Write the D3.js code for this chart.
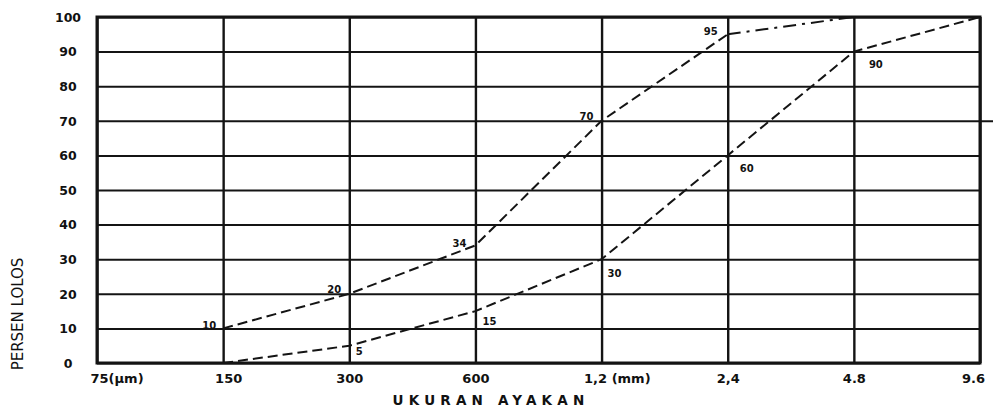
<!DOCTYPE html>
<html>
<head>
<meta charset="utf-8">
<script src="https://cdn.jsdelivr.net/npm/d3@7"></script>
<style>
  html, body { margin: 0; padding: 0; background: #fff; }
  svg { display: block; }
  text { font-family: "DejaVu Sans", sans-serif; fill: #111; }
</style>
</head>
<body>
<svg id="chart" width="993" height="408"></svg>
<script>
// ---- data ----
const sieveSizes = [0.075, 0.15, 0.3, 0.6, 1.2, 2.4, 4.8, 9.6];           // mm
const xTickLabels = ["75(\u00b5m)", "150", "300", "600", "1,2 (mm)", "2,4", "4.8", "9.6"];
const yTicks = [0, 10, 20, 30, 40, 50, 60, 70, 80, 90, 100];

const upperSizes  = [0.15, 0.3, 0.6, 1.2, 2.4, 4.8];
const upperValues = [10, 20, 34, 70, 95, 100];
const upperLabels = ["10", "20", "34", "70", "95", null];

const lowerSizes  = [0.15, 0.3, 0.6, 1.2, 2.4, 4.8, 9.6];
const lowerValues = [0, 5, 15, 30, 60, 90, 100];
const lowerLabels = [null, "5", "15", "30", "60", "90", null];

const yTitle = "PERSEN LOLOS";
const xTitle = "UKURAN AYAKAN";

// ---- layout ----
const svg = d3.select("#chart");
const mLeft = 97, mRight = 980, mTop = 17, mBottom = 363;

const x = d3.scaleLog().base(2).domain([0.075, 9.6]).range([mLeft, mRight]);
const y = d3.scaleLinear().domain([0, 100]).range([mBottom, mTop]);

const ink = "#141414";

// horizontal grid
const yAxis = d3.axisLeft(y).tickValues(yTicks).tickSize(-(mRight - mLeft)).tickFormat(d => d);
const gy = svg.append("g").attr("transform", `translate(${mLeft},0)`).call(yAxis);
gy.select(".domain").remove();
gy.selectAll(".tick line").attr("stroke", ink).attr("stroke-width", 2);
gy.selectAll(".tick text")
  .attr("x", -29).attr("dy", "0.35em")
  .attr("text-anchor", "middle")
  .style("font-size", "12.5px").style("font-weight", "bold");
// the 70 line sticks out past the right border
gy.selectAll(".tick").filter(d => d === 70).select("line")
  .attr("x2", 993 - mLeft);

// vertical grid
const xAxis = d3.axisBottom(x).tickValues(sieveSizes).tickSize(-(mBottom - mTop))
  .tickFormat((d, i) => xTickLabels[i]);
const gx = svg.append("g").attr("transform", `translate(0,${mBottom})`).call(xAxis);
gx.select(".domain").remove();
gx.selectAll(".tick line").attr("stroke", ink).attr("stroke-width", 2.4);
gx.selectAll(".tick text")
  .attr("y", 20).attr("dy", 0)
  .style("font-size", "13px").style("font-weight", "bold")
  .attr("text-anchor", (d, i) => (i === 0 || i === 4) ? "start" : "middle")
  .attr("dx", (d, i) => i === 0 ? -7 : i === 1 ? 5 : i === 4 ? -18 : i === 7 ? -7 : 0);

// frame
svg.append("rect")
  .attr("x", mLeft).attr("y", mTop)
  .attr("width", mRight - mLeft).attr("height", mBottom - mTop)
  .attr("fill", "none").attr("stroke", ink).attr("stroke-width", 3);

// curves
const line = d3.line().x(d => x(d[0])).y(d => y(d[1]));
const upper = upperSizes.map((s, i) => [s, upperValues[i]]);
const lower = lowerSizes.map((s, i) => [s, lowerValues[i]]);

svg.append("path").datum(upper.slice(0, 5)).attr("d", line)
  .attr("fill", "none").attr("stroke", ink).attr("stroke-width", 2)
  .attr("stroke-dasharray", "10,5");
svg.append("path").datum(upper.slice(4)).attr("d", line)
  .attr("fill", "none").attr("stroke", ink).attr("stroke-width", 2)
  .attr("stroke-dasharray", "13,6,3,6");
svg.append("path").datum(lower).attr("d", line)
  .attr("fill", "none").attr("stroke", ink).attr("stroke-width", 2)
  .attr("stroke-dasharray", "10,5");

// point labels (offsets are layout only)
const upperOffsets = [[-14, -3], [-15, -4], [-16, -2], [-15, -4], [-17, -3], [0, 0]];
const lowerOffsets = [[0, 0], [10, 6], [14, 10], [13, 14], [19, 13], [22, 13], [0, 0]];

function labelSeries(pts, labels, offsets) {
  svg.append("g").selectAll("text")
    .data(pts.map((p, i) => ({ p, t: labels[i], o: offsets[i] })).filter(d => d.t))
    .join("text")
    .attr("x", d => x(d.p[0]) + d.o[0])
    .attr("y", d => y(d.p[1]) + d.o[1])
    .attr("dy", "0.35em")
    .attr("text-anchor", "middle")
    .style("font-size", "10px").style("font-weight", "bold")
    .text(d => d.t);
}
labelSeries(upper, upperLabels, upperOffsets);
labelSeries(lower, lowerLabels, lowerOffsets);

// axis titles
svg.append("text")
  .attr("transform", "translate(23,314) rotate(-90)")
  .attr("text-anchor", "middle")
  .style("font-size", "15px")
  .text(yTitle);
svg.append("text")
  .attr("x", 491).attr("y", 405)
  .attr("text-anchor", "middle")
  .style("font-size", "13.5px").style("font-weight", "bold")
  .style("letter-spacing", "5.2px")
  .text(xTitle);
</script>
</body>
</html>
